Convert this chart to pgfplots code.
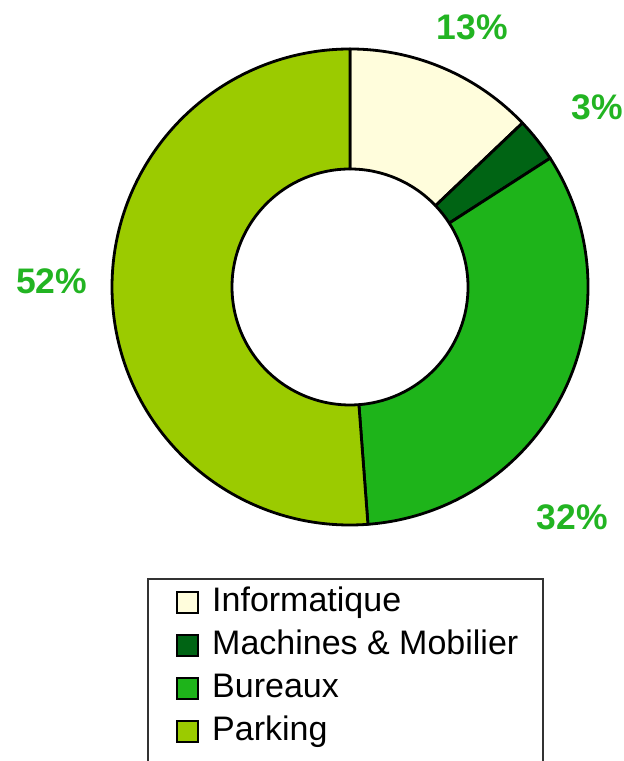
\documentclass[border=0pt]{standalone}
\usepackage{pgfplots}
\pgfplotsset{compat=1.18}
\usepackage{pgfplotstable}
\usepackage{fontspec}
\setmainfont{Liberation Sans}

\definecolor{cInfo}{HTML}{FFFDDC}
\definecolor{cMach}{HTML}{006414}
\definecolor{cBur}{HTML}{1EB41A}
\definecolor{cPark}{HTML}{9BCB00}
\definecolor{cLab}{HTML}{22B422}

% shares (%) read from the slice angles of the chart
\pgfplotstableread{
id value
Informatique 12.9
Machines 3.0
Bureaux 32.9
Parking 51.2
}\donutdata

\newcommand\donutwedge[3]{%
  \filldraw[fill=#3, draw=black, line width=2.8bp, line join=round]
    (axis cs:{cos(#1)},{sin(#1)}) arc[start angle=#1, end angle=#2, radius=238bp]
    -- (axis cs:{0.4958*cos(#2)},{0.4958*sin(#2)})
    arc[start angle=#2, end angle=#1, radius=118bp] -- cycle;}

\begin{document}
\begin{tikzpicture}[x=1bp,y=1bp]
\useasboundingbox (0,0) rectangle (624,761);
\pgfplotstablegetelem{0}{value}\of\donutdata \pgfmathsetmacro\va{\pgfplotsretval}
\pgfplotstablegetelem{1}{value}\of\donutdata \pgfmathsetmacro\vb{\pgfplotsretval}
\pgfplotstablegetelem{2}{value}\of\donutdata \pgfmathsetmacro\vc{\pgfplotsretval}
\pgfplotstablegetelem{3}{value}\of\donutdata \pgfmathsetmacro\vd{\pgfplotsretval}
\pgfmathsetmacro\aA{90}
\pgfmathsetmacro\aB{\aA-3.6*\va}
\pgfmathsetmacro\aC{\aB-3.6*\vb}
\pgfmathsetmacro\aD{\aC-3.6*\vc}
\pgfmathsetmacro\aE{\aD-3.6*\vd}
\begin{axis}[
  scale only axis, width=476bp, height=476bp,
  xmin=-1, xmax=1, ymin=-1, ymax=1,
  hide axis, clip=false,
  at={(350bp,474bp)}, anchor=origin,
]
\donutwedge{\aA}{\aB}{cInfo}
\donutwedge{\aB}{\aC}{cMach}
\donutwedge{\aC}{\aD}{cBur}
\donutwedge{\aD}{\aE}{cPark}
\begin{scope}[every node/.style={font=\fontsize{35.5bp}{42bp}\selectfont\bfseries, text=cLab, inner sep=0pt}]
\node at (axis cs:0.513,1.092) {13\%};
\node at (axis cs:1.040,0.756) {3\%};
\node at (axis cs:0.933,-0.966) {32\%};
\node at (axis cs:-1.254,0.025) {52\%};
\end{scope}
\end{axis}
% legend
\draw[line width=1.3bp, black!80] (148,182) rectangle (543,-30);
\foreach \c/\t [count=\i from 0] in {cInfo/Informatique, cMach/Machines \& Mobilier, cBur/Bureaux, cPark/Parking}{
  \filldraw[fill=\c, draw=black, line width=1.8bp] (177,{148-43*\i}) rectangle (198,{169-43*\i});
  \node[anchor=base west, inner sep=0pt, font=\fontsize{34bp}{40bp}\selectfont] at (212,{149-43*\i}) {\t};
}
\end{tikzpicture}
\end{document}
